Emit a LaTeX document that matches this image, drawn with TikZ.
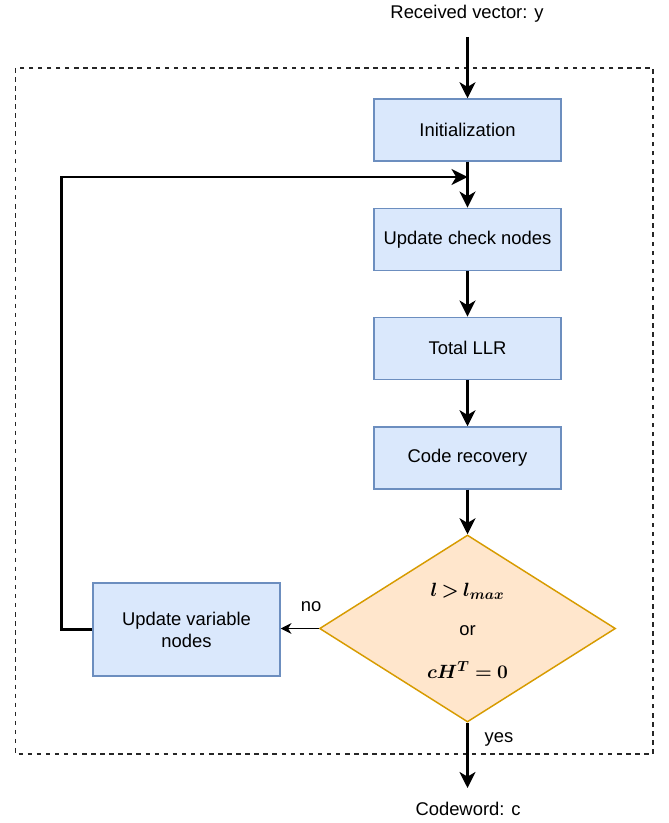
\documentclass[tikz,border=0pt]{standalone}
\usepackage{bm}
\usepackage{fontspec}
\setmainfont{Liberation Sans}
\usetikzlibrary{arrows.meta,shapes.geometric}
\definecolor{boxfill}{HTML}{DAE8FC}
\definecolor{boxline}{HTML}{6C8EBF}
\definecolor{decfill}{HTML}{FFE6CC}
\definecolor{decline}{HTML}{D79B00}
\newcommand{\condone}{$\bm{l} \mathbin{\bm{>}} \bm{l}_{\bm{max}}$}
\newcommand{\condtwo}{$\bm{c}\bm{H}^{\bm{T}} \mathrel{\bm{=}} \bm{0}$}
\begin{document}
\begin{tikzpicture}[x=0.75pt,y=-0.75pt,
  stepbox/.style={draw=boxline, fill=boxfill, line width=1.1pt, minimum width=140.25pt, minimum height=46.5pt, inner sep=2pt, font=\fontsize{13.8}{16.5}\selectfont, align=center},
  decbox/.style={diamond, draw=decline, fill=decfill, line width=1.1pt, minimum width=222pt, minimum height=140.25pt, inner sep=0pt},
  flow/.style={line width=2pt, -{Stealth[length=12pt,width=12pt,inset=3.5pt]}},
  smallflow/.style={line width=1.2pt, -{Stealth[length=8pt,width=8pt,inset=2.5pt]}},
  txt/.style={font=\fontsize{13.8}{16.5}\selectfont, inner sep=0pt},
  mtxt/.style={font=\fontsize{15.2}{18}\selectfont, inner sep=0pt}
]
\useasboundingbox (0,0) rectangle (668,823);
% dashed frame
\draw[line width=1.1pt, dash pattern=on 3.4pt off 3.4pt, black!85] (15.5,68) rectangle (653,754);

\node[stepbox] (init)  at (467.5,130) {Initialization};
\node[stepbox] (check) at (467.5,239.3) {Update check nodes};
\node[stepbox] (llr)   at (467.5,348.3) {Total LLR};
\node[stepbox] (rec)   at (467.5,458) {Code recovery};
\node[decbox]  (dec)   at (467.5,628.5) {};
\node[stepbox, minimum height=70pt] (uvn) at (186.5,629.5) {Update variable\\nodes};

\node[mtxt] (c1) at (467.5,591) {\condone};
\node[txt] (c2) at (467.5,630.5) {or};
\node[mtxt] (c3) at (467.5,670) {\condtwo};

\node[txt] (rv) at (467,14) {Received vector: y};
\node[txt] (cw) at (468,809) {Codeword: c};
\coordinate (top) at (467.5,37);
\coordinate (bot) at (467.5,788);
\coordinate (j) at (467.5,177);

\draw[flow] (top) -- (init.north);
\draw[flow] (init.south) -- (check.north);
\draw[flow] (check.south) -- (llr.north);
\draw[flow] (llr.south) -- (rec.north);
\draw[flow] (rec.south) -- (dec.north);
\draw[flow] (dec.south) -- (bot);
\draw[smallflow] (dec.west) -- (uvn.east |- dec.west);
\draw[flow] (uvn.west) -- ++(-31,0) |- (j);

\node[txt] (no) at (311,607) {no};
\node[txt] (yes) at (499,739) {yes};
\end{tikzpicture}
\end{document}
